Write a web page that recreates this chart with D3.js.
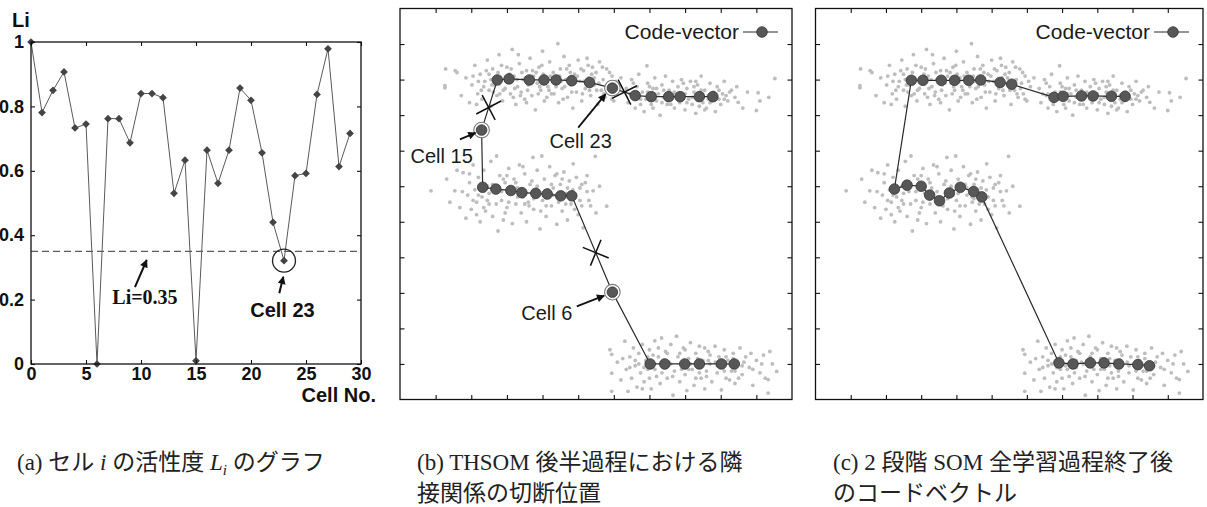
<!DOCTYPE html>
<html>
<head>
<meta charset="utf-8">
<script src="https://cdn.jsdelivr.net/npm/d3@7"></script>
<style>
  html, body { margin: 0; padding: 0; background: #fff; }
  svg { display: block; }
</style>
</head>
<body>
<svg id="fig" width="1207" height="507"></svg>
<script>
// ---------- (a) activity L_i of each cell ----------
const cellNo = d3.range(30);
const activity = [1.0, 0.781, 0.850, 0.907, 0.733, 0.745, 0.0, 0.762, 0.762, 0.687,
                  0.840, 0.840, 0.827, 0.530, 0.633, 0.010, 0.664, 0.561, 0.664, 0.857,
                  0.819, 0.656, 0.440, 0.321, 0.585, 0.592, 0.837, 0.979, 0.613, 0.716];
const threshold = 0.35;
const activityTicks = [0, 0.2, 0.4, 0.6, 0.8, 1];
const activityTickLabels = ["0", "0.2", "0.4", "0.6", "0.8", "1"];
const cellTicks = [0, 5, 10, 15, 20, 25, 30];
const weakCell = 23;

// ---------- input samples (2-D), shared by (b) and (c) ----------
const samplesUpperLeft = [
  [1.26,8.77],[1.28,9.3],[1.26,8.83],[1.6,9.2],[1.55,9.25],[1.72,8.55],[1.85,9.05],[1.95,8.35],[2.02,8.85],
  [2.1,9.4],[2.18,8.6],[2.25,9.15],[2.3,8.45],[2.38,8.95],[2.45,9.55],[2.5,8.7],[2.55,8.25],[2.6,9.3],
  [2.66,8.85],[2.72,8.55],[2.78,9.7],[2.82,9.05],[2.88,8.4],[2.95,8.75],[3.0,9.35],[3.05,8.95],[3.1,8.6],
  [3.15,9.85],[3.2,9.1],[3.25,8.3],[3.3,8.8],[3.35,9.45],[3.4,8.65],[3.45,9.0],[3.5,8.45],[3.55,9.25],
  [3.6,8.85],[3.65,9.6],[3.7,8.55],[3.75,9.1],[3.8,8.15],[3.85,8.9],[3.9,9.35],[3.95,8.7],[4.0,9.8],
  [4.05,8.4],[4.1,9.05],[4.15,8.8],[4.2,9.5],[4.25,8.6],[4.3,9.2],[4.35,8.95],[4.43,10.01],[4.45,8.35],
  [4.5,9.3],[4.55,8.75],[4.6,9.65],[4.65,9.0],[4.7,8.5],[4.75,9.4],[4.8,8.85],[4.85,8.2],[4.9,9.15],
  [4.95,8.65],[5.0,9.55],[5.05,8.95],[5.1,8.4],[5.15,9.25],[5.2,8.75],[5.25,9.6],[5.3,9.05],[5.35,8.55],
  [5.4,9.35],[5.45,8.85],[5.5,9.2],[5.55,8.3],[5.6,9.5],[5.65,8.7],[5.7,9.0],[5.75,8.5],[5.8,9.3],
  [5.85,8.9],[5.9,8.6],[5.95,9.1],[6.0,8.4],[6.1,8.8],[6.2,9.05],
  [2.35,8.8],[2.55,9.0],[2.75,9.2],[2.9,8.7],[3.08,9.15],[3.22,8.75],[3.42,9.2],[3.58,8.7],[3.72,9.25],
  [3.88,8.6],[4.02,9.15],[4.18,8.7],[4.32,8.6],[4.48,9.1],[4.62,8.8],[4.78,9.2],[4.92,8.95],[5.08,9.3],
  [5.22,8.9],[5.38,9.15],[5.52,8.7],[5.68,9.35],[5.82,8.75],[2.62,8.65],[3.18,8.5],[3.98,9.4],[4.58,8.45],
  [5.12,8.6],[2.2,8.95],[2.85,9.4],
  [2.05,9.1],[2.28,8.7],[2.42,9.25],[2.58,8.85],[2.68,9.05],[2.8,8.6],[2.98,8.95],[3.12,9.3],[3.28,9.0],
  [3.38,8.55],[3.52,9.05],[3.68,8.9],[3.82,9.2],[3.92,8.8],[4.08,8.95],[4.22,9.1],[4.38,8.8],[4.52,8.95],
  [4.68,9.3],[4.82,8.65],[4.98,9.1],[5.15,8.95],[5.32,8.7],[5.45,9.05],[5.58,8.9],[5.72,8.6],[5.88,9.2],
  [6.05,8.95],[2.5,9.15],[3.55,8.35],[4.12,8.5],[4.72,9.0],[5.28,9.4],[3.32,9.7],[2.15,8.3],[5.95,8.45]
];
const samplesUpperRight = [
  [6.35,8.75],[6.4,8.35],[6.5,9.0],[6.55,8.55],[6.6,8.2],[6.65,8.8],[6.7,9.15],[6.75,8.45],[6.8,8.65],
  [6.85,8.1],[6.93,9.39],[6.95,8.9],[7.0,8.5],[7.05,8.3],[7.1,8.75],[7.15,9.05],[7.2,8.4],[7.25,8.6],
  [7.3,8.0],[7.35,8.85],[7.4,8.5],[7.45,9.1],[7.5,8.3],[7.55,8.7],[7.6,8.45],[7.65,8.95],[7.7,8.2],
  [7.75,8.6],[7.8,8.8],[7.85,8.35],[7.9,9.0],[7.95,8.55],[8.0,8.15],[8.05,8.75],[8.1,8.45],[8.15,8.95],
  [8.2,8.3],[8.25,8.65],[8.3,8.05],[8.35,8.85],[8.4,8.5],[8.45,9.1],[8.5,8.35],[8.55,8.7],[8.6,8.2],
  [8.65,8.55],[8.7,8.9],[8.75,8.4],[8.8,8.65],[8.85,8.1],[8.9,8.8],[8.95,8.45],[9.0,8.3],[9.05,8.6],
  [9.1,8.95],[9.2,8.4],[9.3,8.7],[9.4,8.5],[9.49,8.36],[9.62,8.2],[9.75,8.65],[10.05,8.63],[10.1,8.4],
  [10.0,8.13],[10.35,8.5],[10.52,9.03],
  [6.6,8.6],[6.9,8.45],[7.15,8.6],[7.4,8.7],[7.6,8.3],[7.85,8.55],[8.05,8.35],[8.25,8.8],[8.5,8.6],
  [8.7,8.35],[8.95,8.7],[9.15,8.55],[7.0,8.8],[7.7,8.65],[8.4,8.25],[6.75,8.3],
  [6.45,8.6],[6.7,8.55],[6.95,8.65],[7.2,8.75],[7.35,8.35],[7.55,8.55],[7.8,8.45],[8.0,8.6],[8.2,8.5],
  [8.45,8.7],[8.65,8.45],[8.85,8.6],[9.1,8.45],[9.25,8.65],[7.1,8.2],[7.95,8.9],[8.55,8.15],[6.55,8.9],
  [9.45,8.8],[8.3,8.95]
];
const samplesMiddle = [
  [0.87,5.87],[1.31,6.2],[1.4,5.55],[1.54,5.87],[1.6,6.45],[1.68,5.4],[1.77,6.38],[1.85,5.1],[1.9,5.75],
  [1.95,6.1],[2.0,5.35],[2.05,6.6],[2.1,5.9],[2.15,5.55],[2.2,6.25],[2.25,5.0],[2.3,5.7],[2.35,6.45],
  [2.4,5.3],[2.45,6.0],[2.5,5.5],[2.55,6.7],[2.6,5.15],[2.65,5.85],[2.71,6.85],[2.75,4.74],[2.8,6.3],
  [2.85,5.6],[2.9,5.05],[2.95,6.1],[3.0,5.4],[3.05,6.5],[3.1,5.8],[3.15,4.95],[3.2,6.2],[3.25,5.5],
  [3.3,5.95],[3.35,6.6],[3.4,5.25],[3.45,5.7],[3.5,6.35],[3.55,5.0],[3.6,5.55],[3.65,6.05],[3.73,6.81],
  [3.75,5.35],[3.8,5.85],[3.85,6.45],[3.93,4.8],[3.98,6.85],[4.0,5.6],[4.05,6.2],[4.1,5.15],[4.15,5.9],
  [4.2,6.55],[4.25,5.45],[4.3,5.75],[4.35,6.3],[4.4,4.93],[4.45,5.55],[4.5,6.05],[4.55,5.3],[4.6,6.4],
  [4.65,5.8],[4.7,5.05],[4.75,6.15],[4.8,5.5],[4.86,6.63],[4.9,5.7],[4.95,6.25],[5.0,5.2],[5.05,5.95],
  [5.1,5.45],[5.14,4.83],[5.2,6.1],[5.3,5.6],[5.42,5.87],[5.5,5.25],[5.6,6.0],[5.8,5.44],[5.48,6.84],
  [2.2,5.75],[2.45,5.6],[2.6,6.05],[2.85,5.85],[3.05,5.55],[3.25,6.1],[3.45,5.85],[3.62,5.45],[3.85,6.0],
  [4.05,5.8],[4.25,6.05],[4.45,5.7],[4.65,5.5],[4.85,5.9],[5.05,5.6],[5.25,5.85],[2.35,5.4],[3.0,6.3],
  [3.75,5.65],[4.55,6.2],
  [1.75,5.85],[2.05,5.6],[2.3,6.0],[2.5,5.8],[2.7,5.5],[2.9,6.2],[3.1,5.95],[3.3,5.7],[3.5,5.5],
  [3.7,6.15],[3.9,5.75],[4.1,5.45],[4.3,5.95],[4.5,5.65],[4.7,5.95],[4.9,5.35],[5.1,6.05],[5.35,5.45],
  [2.15,5.2],[2.95,5.25],[3.95,5.3],[4.4,6.35],[5.25,6.3],[1.95,6.35],[3.45,6.55]
];
const samplesLower = [
  [5.89,1.4],[5.94,1.27],[5.94,0.74],[5.94,0.23],[6.1,1.05],[6.2,0.55],[6.31,1.64],[6.35,0.85],[6.4,0.23],
  [6.45,1.2],[6.5,0.6],[6.55,1.45],[6.6,0.95],[6.65,0.35],[6.7,1.3],[6.75,0.75],[6.8,1.55],[6.85,0.5],
  [6.9,1.1],[6.95,0.85],[7.0,1.4],[7.05,0.3],[7.1,0.95],[7.15,1.65],[7.2,0.65],[7.25,1.2],[7.3,0.45],
  [7.34,1.73],[7.4,0.9],[7.45,1.35],[7.5,0.6],[7.55,1.05],[7.6,1.55],[7.66,0.12],[7.7,0.8],[7.76,1.78],
  [7.8,1.2],[7.85,0.5],[7.9,1.0],[7.95,1.45],[8.0,0.7],[8.05,0.25],[8.1,1.15],[8.15,1.6],[8.2,0.85],
  [8.25,0.4],[8.3,1.3],[8.35,0.95],[8.4,1.5],[8.45,0.6],[8.5,1.1],[8.55,0.3],[8.6,0.8],[8.65,1.35],
  [8.7,1.0],[8.75,0.5],[8.84,1.5],[8.9,0.75],[8.95,1.2],[9.02,0.27],[9.05,0.95],[9.1,1.4],[9.15,0.6],
  [9.2,1.1],[9.3,0.8],[9.35,1.3],[9.4,0.45],[9.45,1.0],[9.54,1.45],[9.6,0.7],[9.7,1.2],[9.8,0.9],
  [9.9,0.4],[10.0,1.1],[10.1,0.75],[10.2,1.25],[10.33,0.56],[10.33,0.18],[10.38,1.35],[10.45,1.0],[10.57,0.79],
  [6.6,1.1],[6.85,0.9],[7.1,1.25],[7.35,0.75],[7.6,1.0],[7.85,1.3],[8.1,0.85],[8.35,1.15],[8.6,0.65],
  [8.85,1.05],[9.1,0.8],[9.35,1.15],[9.6,0.95],[9.85,1.3],[7.25,1.45],[8.0,1.4],[8.7,1.25],[9.25,0.55],
  [6.25,1.15],[6.45,0.9],[6.7,1.0],[6.95,1.2],[7.15,0.85],[7.4,1.1],[7.65,0.65],[7.9,0.85],[8.15,1.0],
  [8.4,0.75],[8.65,1.1],[8.9,0.95],[9.15,1.2],[9.4,0.8],[9.65,1.05],[9.9,0.85],[10.15,1.0],[7.0,0.6],
  [8.3,0.6],[9.5,0.6],[7.5,1.3],[8.55,1.45],[10.25,0.6],[6.8,0.3]
];
const samples = [].concat(samplesUpperLeft, samplesUpperRight, samplesMiddle, samplesLower);

// ---------- (b) code vectors late in THSOM (cells 0..29, chain order) ----------
const thsomX = [9.38, 9.02, 8.40, 7.99, 7.43, 7.02, 5.96, 4.82, 4.51, 4.13,
                3.81, 3.42, 3.11, 2.69, 2.32, 2.29, 2.73, 3.06, 3.63, 4.04,
                4.38, 4.82, 5.32, 5.96, 6.60, 7.05, 7.54, 7.86, 8.40, 8.78];
const thsomY = [1.00, 1.00, 1.00, 1.00, 1.00, 1.00, 3.02, 5.73, 5.73, 5.78,
                5.80, 5.82, 5.88, 5.92, 5.97, 7.58, 8.99, 9.02, 8.99, 8.99,
                8.99, 8.97, 8.92, 8.76, 8.55, 8.52, 8.52, 8.52, 8.52, 8.52];
const cutCells = [6, 15, 23];
// [cell, next cell, fraction along the link] for each removed link
const cutLinks = [[15, 16, 0.45], [23, 24, 0.53], [6, 7, 0.41]];
const cellNotes = [
  { text: "Cell 15", at: [1.17, 6.85], tail: [1.68, 7.32], head: [2.12, 7.50] },
  { text: "Cell 23", at: [5.07, 7.27], tail: [5.00, 7.65], head: [5.77, 8.59] },
  { text: "Cell 6",  at: [4.12, 2.43], tail: [4.96, 2.62], head: [5.73, 2.92] }
];

// ---------- (c) code vectors after the full two-stage SOM ----------
const twoStageX = [9.48, 9.15, 8.61, 8.19, 7.80, 7.31, 6.91, 4.72, 4.49, 4.11,
                   3.80, 3.52, 3.24, 3.00, 2.60, 2.24, 2.72, 3.05, 3.57, 3.95,
                   4.35, 4.69, 5.24, 5.57, 6.77, 7.03, 7.55, 7.88, 8.40, 8.79];
const twoStageY = [0.95, 0.98, 1.00, 1.03, 1.03, 1.00, 1.03, 5.70, 5.85, 5.97,
                   5.81, 5.59, 5.75, 6.00, 6.03, 5.92, 8.98, 8.98, 8.98, 8.98,
                   8.98, 8.99, 8.92, 8.87, 8.50, 8.53, 8.54, 8.54, 8.53, 8.53];
const planeTicks = d3.range(1, 11);

const SANS = "'Liberation Sans', Arial, Helvetica, sans-serif";
const SERIF = "'Liberation Serif', 'Times New Roman', serif";

const svg = d3.select("#fig");
svg.append("rect").attr("width", 1207).attr("height", 507).attr("fill", "#fff");

const defs = svg.append("defs");
defs.append("marker")
  .attr("id", "head").attr("viewBox", "0 0 10 10")
  .attr("refX", 9).attr("refY", 5)
  .attr("markerWidth", 10).attr("markerHeight", 8)
  .attr("markerUnits", "userSpaceOnUse").attr("orient", "auto")
  .append("path").attr("d", "M0,0L10,5L0,10z").attr("fill", "#111");

// =================== panel (a) ===================
const ax = d3.scaleLinear().domain([0, 30]).range([31, 361]);
const ay = d3.scaleLinear().domain([0, 1]).range([364, 42]);
const gA = svg.append("g");

gA.append("line")
  .attr("x1", ax(0)).attr("x2", ax(30))
  .attr("y1", ay(threshold)).attr("y2", ay(threshold))
  .attr("stroke", "#333").attr("stroke-width", 1).attr("stroke-dasharray", "7,4");

gA.append("path").datum(activity)
  .attr("d", d3.line().x((d, i) => ax(cellNo[i])).y(d => ay(d)))
  .attr("fill", "none").attr("stroke", "#5a5a5a").attr("stroke-width", 1);

gA.selectAll("path.mk").data(activity).join("path").attr("class", "mk")
  .attr("transform", (d, i) => `translate(${ax(cellNo[i])},${ay(d)}) rotate(45)`)
  .attr("d", d3.symbol(d3.symbolSquare, 30)())
  .attr("fill", "#444");

function styleAxis(g, withText) {
  g.select(".domain").remove();
  g.selectAll(".tick line").attr("stroke", "#111").attr("stroke-width", 1.1);
  if (withText) {
    g.selectAll(".tick text").attr("fill", "#111")
      .style("font", `bold 18px ${SANS}`);
  } else {
    g.selectAll(".tick text").remove();
  }
}

gA.append("g")
  .call(d3.axisLeft(ay).tickValues(activityTicks)
    .tickFormat((d, i) => activityTickLabels[i]).tickSizeInner(-4).tickSizeOuter(0).tickPadding(7))
  .attr("transform", `translate(${ax(0)},0)`)
  .call(g => styleAxis(g, true));
gA.append("g")
  .call(d3.axisRight(ay).tickValues(activityTicks).tickSizeInner(-4).tickSizeOuter(0))
  .attr("transform", `translate(${ax(30)},0)`)
  .call(g => styleAxis(g, false));
gA.append("g")
  .call(d3.axisBottom(ax).tickValues(cellTicks).tickFormat(d3.format("d"))
    .tickSizeInner(-4).tickSizeOuter(0).tickPadding(3))
  .attr("transform", `translate(0,${ay(0)})`)
  .call(g => styleAxis(g, true));
gA.append("g")
  .call(d3.axisTop(ax).tickValues(cellTicks).tickSizeInner(-4).tickSizeOuter(0))
  .attr("transform", `translate(0,${ay(1)})`)
  .call(g => styleAxis(g, false));

gA.append("rect")
  .attr("x", ax(0)).attr("y", ay(1))
  .attr("width", ax(30) - ax(0)).attr("height", ay(0) - ay(1))
  .attr("fill", "none").attr("stroke", "#111").attr("stroke-width", 1.3);

gA.append("text").attr("x", 12).attr("y", 27).text("Li")
  .style("font", `bold 20px ${SANS}`).attr("fill", "#111");
gA.append("text").attr("x", 376).attr("y", 402).attr("text-anchor", "end").text("Cell No.")
  .style("font", `bold 20px ${SANS}`).attr("fill", "#111");

// threshold note
gA.append("line")
  .attr("x1", ax(9.45)).attr("y1", ay(0.239)).attr("x2", ax(10.52)).attr("y2", ay(0.323))
  .attr("stroke", "#111").attr("stroke-width", 2).attr("marker-end", "url(#head)");
gA.append("text").attr("x", ax(10.36)).attr("y", ay(0.208)).attr("dy", "0.35em")
  .attr("text-anchor", "middle").text("Li=0.35")
  .style("font", `bold 20px ${SERIF}`).attr("fill", "#111");

// weakest cell note
gA.append("circle")
  .attr("cx", ax(weakCell)).attr("cy", ay(activity[weakCell])).attr("r", 11.5)
  .attr("fill", "none").attr("stroke", "#222").attr("stroke-width", 1.3);
gA.append("line")
  .attr("x1", ax(22.57)).attr("y1", ay(0.22)).attr("x2", ax(22.94)).attr("y2", ay(0.271))
  .attr("stroke", "#111").attr("stroke-width", 2).attr("marker-end", "url(#head)");
gA.append("text").attr("x", ax(22.86)).attr("y", ay(0.168)).attr("dy", "0.35em")
  .attr("text-anchor", "middle").text("Cell " + weakCell)
  .style("font", `bold 20px ${SANS}`).attr("fill", "#111");

// =================== panels (b) and (c) ===================
function drawPlane(x0, x1, cx, cy, opts) {
  const xs = d3.scaleLinear().domain([0, 11]).range([x0, x1]);
  const ys = d3.scaleLinear().domain([0, 11]).range([399.5, 8.5]);
  const g = svg.append("g");

  g.append("g").selectAll("circle").data(samples).join("circle")
    .attr("cx", d => xs(d[0])).attr("cy", d => ys(d[1])).attr("r", 1.9)
    .attr("fill", "#bdbdbd");

  const nodes = cx.map((v, i) => [v, cy[i]]);
  g.append("path").datum(nodes)
    .attr("d", d3.line().x(d => xs(d[0])).y(d => ys(d[1])))
    .attr("fill", "none").attr("stroke", "#2a2a2a").attr("stroke-width", 1.2);

  (opts.rings || []).forEach(i => {
    g.append("circle").attr("cx", xs(cx[i])).attr("cy", ys(cy[i])).attr("r", 7.8)
      .attr("fill", "#fff").attr("stroke", "#7a7a7a").attr("stroke-width", 1.1);
  });

  g.append("g").selectAll("circle").data(nodes).join("circle")
    .attr("cx", d => xs(d[0])).attr("cy", d => ys(d[1])).attr("r", 5.3)
    .attr("fill", "#575757").attr("stroke", "#333").attr("stroke-width", 0.8);

  (opts.cuts || []).forEach(([a, b, t]) => {
    const px = xs(cx[a]), py = ys(cy[a]), qx = xs(cx[b]), qy = ys(cy[b]);
    const mx = px + (qx - px) * t, my = py + (qy - py) * t;
    const ang = Math.atan2(qy - py, qx - px);
    [ang + Math.PI / 4, ang - Math.PI / 4].forEach(a2 => {
      const L = 14;
      g.append("line")
        .attr("x1", mx - L * Math.cos(a2)).attr("y1", my - L * Math.sin(a2))
        .attr("x2", mx + L * Math.cos(a2)).attr("y2", my + L * Math.sin(a2))
        .attr("stroke", "#111").attr("stroke-width", 1.5);
    });
  });

  (opts.notes || []).forEach(n => {
    g.append("line")
      .attr("x1", xs(n.tail[0])).attr("y1", ys(n.tail[1]))
      .attr("x2", xs(n.head[0])).attr("y2", ys(n.head[1]))
      .attr("stroke", "#111").attr("stroke-width", 1.8).attr("marker-end", "url(#head)");
    g.append("text").attr("x", xs(n.at[0])).attr("y", ys(n.at[1])).attr("dy", "0.35em")
      .attr("text-anchor", "middle").text(n.text)
      .style("font", `20px ${SANS}`).attr("fill", "#1a1a1a");
  });

  // frame and inward ticks
  const tk = 4.5;
  const axes = [
    [d3.axisBottom(xs), `translate(0,${ys(0)})`],
    [d3.axisTop(xs), `translate(0,${ys(11)})`],
    [d3.axisLeft(ys), `translate(${xs(0)},0)`],
    [d3.axisRight(ys), `translate(${xs(11)},0)`]
  ];
  axes.forEach(([axis, tr]) => {
    g.append("g").attr("transform", tr)
      .call(axis.tickValues(planeTicks).tickSizeInner(-tk).tickSizeOuter(0))
      .call(s => styleAxis(s, false));
  });
  g.append("rect")
    .attr("x", xs(0)).attr("y", ys(11))
    .attr("width", xs(11) - xs(0)).attr("height", ys(0) - ys(11))
    .attr("fill", "none").attr("stroke", "#111").attr("stroke-width", 1.3);

  // legend
  const lx = xs(11), ly = 32;
  g.append("text").attr("x", lx - 53).attr("y", ly).attr("dy", "0.35em")
    .attr("text-anchor", "end").text("Code-vector")
    .style("font", `21px ${SANS}`).attr("fill", "#1a1a1a");
  g.append("line").attr("x1", lx - 49).attr("x2", lx - 14).attr("y1", ly).attr("y2", ly)
    .attr("stroke", "#2a2a2a").attr("stroke-width", 1.2);
  g.append("circle").attr("cx", lx - 30).attr("cy", ly).attr("r", 5.3)
    .attr("fill", "#575757").attr("stroke", "#333").attr("stroke-width", 0.8);
}

drawPlane(400, 792, thsomX, thsomY, { rings: cutCells, cuts: cutLinks, notes: cellNotes });
drawPlane(815.5, 1203, twoStageX, twoStageY, {});

// =================== captions ===================
function caption(x, y) {
  return svg.append("text").attr("x", x).attr("y", y)
    .style("font-size", "23px")
    .style("font-family", "'Liberation Serif', 'Noto Sans CJK JP', serif")
    .attr("fill", "#222");
}
const capA = caption(17, 470);
capA.append("tspan").text("(a) セル ");
capA.append("tspan").attr("font-style", "italic").text("i");
capA.append("tspan").text(" の活性度 ");
capA.append("tspan").attr("font-style", "italic").text("L");
capA.append("tspan").attr("font-style", "italic").attr("font-size", 15).attr("dy", 5).text("i");
capA.append("tspan").attr("dy", -5).text(" のグラフ");

caption(417, 470).text("(b) THSOM 後半過程における隣");
caption(417, 501).text("接関係の切断位置");
caption(833, 470).text("(c) 2 段階 SOM 全学習過程終了後");
caption(833, 501).text("のコードベクトル");
</script>
</body>
</html>
